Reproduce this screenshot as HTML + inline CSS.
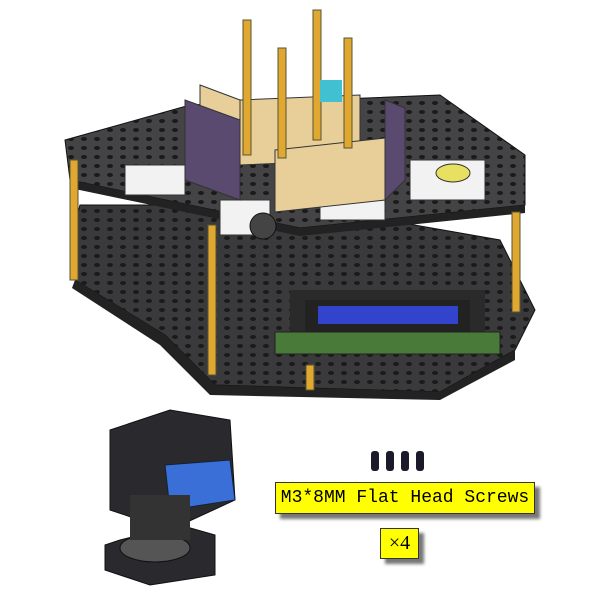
<!DOCTYPE html>
<html><head><meta charset="utf-8"><style>
body{margin:0;background:#fff;width:615px;height:599px;overflow:hidden;position:relative;font-family:"Liberation Serif","Noto Serif CJK SC",serif}
.lab{position:absolute;background:#ffff00;border:1px solid #333;box-shadow:5px 5px 3px #777;color:#000;text-align:center;font-family:"Liberation Mono","Noto Sans CJK SC",monospace}
</style></head><body>
<svg width="615" height="599" style="position:absolute;left:0;top:0">
<defs>
<pattern id="holes" width="13" height="9" patternUnits="userSpaceOnUse"><ellipse cx="6" cy="4" rx="3" ry="2" fill="#1a1a1a"/></pattern>
</defs>
<g>
<polygon points="80,205 300,205 500,240 535,310 515,350 440,392 215,385 165,335 75,280 70,240" fill="#3a3a3c" stroke="#111"/>
<polygon points="80,205 300,205 500,240 535,310 515,350 440,392 215,385 165,335 75,280 70,240" fill="url(#holes)"/>
<polygon points="75,280 165,335 215,385 440,392 515,350 515,360 440,400 210,395 160,345 72,288" fill="#222"/>
</g>
<rect x="290" y="290" width="195" height="55" fill="#2a2a2a"/>
<rect x="275" y="332" width="225" height="22" fill="#4a7a3a" stroke="#222"/>
<rect x="305" y="300" width="165" height="32" fill="#222"/>
<rect x="318" y="306" width="140" height="18" fill="#3344cc"/>
<g>
<polygon points="65,140 190,105 440,95 525,155 525,205 300,228 70,180" fill="#444446" stroke="#111"/>
<polygon points="65,140 190,105 440,95 525,155 525,205 300,228 70,180" fill="url(#holes)"/>
<polygon points="70,180 300,228 525,205 525,213 300,236 70,188" fill="#222"/>
</g>
<g fill="#f2f2f2" stroke="#333">
<rect x="125" y="165" width="60" height="30"/><rect x="320" y="190" width="65" height="30"/>
<rect x="410" y="160" width="75" height="40"/><rect x="220" y="200" width="50" height="35"/>
</g>
<g>
<polygon points="200,85 240,100 240,165 200,150" fill="#e8cf9a" stroke="#333"/>
<polygon points="240,100 360,95 360,160 240,165" fill="#e8cf9a" stroke="#333"/>
<polygon points="185,100 240,120 240,200 185,180" fill="#5a4a70" stroke="#333"/>
<polygon points="275,150 385,138 385,200 275,212" fill="#e8cf9a" stroke="#333"/>
<polygon points="385,100 405,108 405,180 385,200" fill="#5a4a70" stroke="#333"/>
</g>
<g fill="#e0a830" stroke="#553">
<rect x="243" y="20" width="8" height="135"/><rect x="313" y="10" width="8" height="130"/>
<rect x="278" y="48" width="8" height="110"/><rect x="344" y="38" width="8" height="110"/>
<rect x="70" y="160" width="8" height="120"/><rect x="208" y="225" width="8" height="150"/>
<rect x="512" y="212" width="8" height="100"/><rect x="306" y="365" width="8" height="25"/>
</g>
<rect x="320" y="80" width="22" height="22" fill="#40c0d0"/>
<ellipse cx="453" cy="173" rx="17" ry="9" fill="#e8e060" stroke="#333"/>
<circle cx="263" cy="226" r="13" fill="#444" stroke="#111"/>
<g fill="#1a1a2a">
<rect x="371" y="451" width="8" height="20" rx="3"/><rect x="386" y="451" width="8" height="20" rx="3"/>
<rect x="401" y="451" width="8" height="20" rx="3"/><rect x="416" y="451" width="8" height="20" rx="3"/>
</g>
<g>
<polygon points="110,430 170,410 230,420 235,500 170,530 110,510" fill="#2a2a2e" stroke="#111"/>
<polygon points="165,465 230,460 235,500 170,510" fill="#3b6fd8" stroke="#123"/>
<polygon points="120,540 180,525 215,535 215,575 150,585 105,570 105,545" fill="#2a2a2e" stroke="#111"/>
<ellipse cx="155" cy="548" rx="35" ry="14" fill="#555" stroke="#111"/>
<rect x="130" y="495" width="60" height="45" fill="#333"/>
</g>
</svg>
<div class="lab" style="left:275px;top:482px;width:258px;height:30px;font-size:18px;line-height:30px">M3*8MM Flat Head Screws</div>
<div class="lab" style="left:380px;top:528px;width:37px;height:29px;font-size:20px;line-height:29px;font-family:'Liberation Serif',serif">×4</div>
</body></html>
